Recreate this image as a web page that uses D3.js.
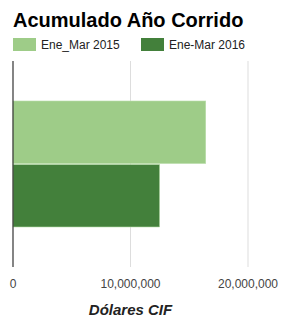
<!DOCTYPE html>
<html lang="es">
<head>
    <meta charset="UTF-8">
    <title>Acumulado Año Corrido</title>
    <script src="https://d3js.org/d3.v7.min.js"></script>
    <style>
        body { margin: 0; background: #fff; }
        text { font-family: "Liberation Sans", Arial, sans-serif; }
        .title { font-size: 20px; font-weight: bold; fill: #000; }
        .legend-label { font-size: 12px; fill: #222; }
        .tick-label { font-size: 12px; fill: #444; }
        .axis-title { font-size: 15px; font-weight: bold; font-style: italic; fill: #222; }
    </style>
</head>
<body>
    <svg width="282" height="318"></svg>

    <script>
        // Data
        const categories = ["Acumulado"];
        const seriesNames = ["Ene_Mar 2015", "Ene-Mar 2016"];
        const seriesValues = [16400000, 12480000];
        const seriesColors = ["#9ecc88", "#43803b"];
        const tickValues = [0, 10000000, 20000000];

        const margin = {top: 61, right: 0, bottom: 51, left: 13},
              width = 282 - margin.left - margin.right,
              height = 318 - margin.top - margin.bottom;

        const svg = d3.select("svg");

        svg.append("text")
            .attr("class", "title")
            .attr("x", 13)
            .attr("y", 27)
            .text("Acumulado Año Corrido");

        // Legend
        const legend = svg.append("g")
            .attr("transform", "translate(13,38)");

        const legendItems = legend.selectAll("g")
            .data(seriesNames)
            .enter().append("g")
            .attr("transform", (d, i) => "translate(" + (i * 128) + ",0)");

        legendItems.append("rect")
            .attr("width", 23)
            .attr("height", 13)
            .attr("fill", (d, i) => seriesColors[i]);

        legendItems.append("text")
            .attr("class", "legend-label")
            .attr("x", 28)
            .attr("y", 11)
            .text(d => d);

        const g = svg.append("g")
            .attr("transform", "translate(" + margin.left + "," + margin.top + ")");

        const x = d3.scaleLinear()
            .domain([0, 10000000])
            .range([0, 117.5]);

        const y0 = d3.scaleBand()
            .domain(categories)
            .range([0, height])
            .paddingOuter(0.3175);

        const y1 = d3.scaleBand()
            .domain(seriesNames)
            .range([0, y0.bandwidth()])
            .paddingInner(0.016);

        // Gridlines
        g.selectAll(".grid")
            .data(tickValues.slice(1))
            .enter().append("line")
            .attr("x1", d => x(d))
            .attr("x2", d => x(d))
            .attr("y1", 0)
            .attr("y2", height)
            .attr("stroke", "#dddddd")
            .attr("stroke-width", 1);

        // Bars
        const data = seriesNames.map((s, i) => ({category: categories[0], series: s, value: seriesValues[i]}));

        g.selectAll(".bar")
            .data(data)
            .enter().append("rect")
            .attr("class", "bar")
            .attr("x", x(0))
            .attr("y", d => y0(d.category) + y1(d.series))
            .attr("width", d => x(d.value) - x(0))
            .attr("height", y1.bandwidth())
            .attr("fill", (d, i) => seriesColors[i])
            .attr("stroke", "#b8dca8")
            .attr("stroke-width", 0.6);

        // Baseline
        g.append("line")
            .attr("x1", x(0))
            .attr("x2", x(0))
            .attr("y1", 0)
            .attr("y2", height)
            .attr("stroke", "#333")
            .attr("stroke-width", 1.2);

        // X axis labels
        const fmt = d3.format(",");
        g.selectAll(".tick-label")
            .data(tickValues)
            .enter().append("text")
            .attr("class", "tick-label")
            .attr("x", d => x(d))
            .attr("y", height + 21)
            .attr("text-anchor", "middle")
            .text(d => fmt(d));

        g.append("text")
            .attr("class", "axis-title")
            .attr("x", x(10000000))
            .attr("y", height + 48)
            .attr("text-anchor", "middle")
            .text("Dólares CIF");
    </script>
</body>
</html>
